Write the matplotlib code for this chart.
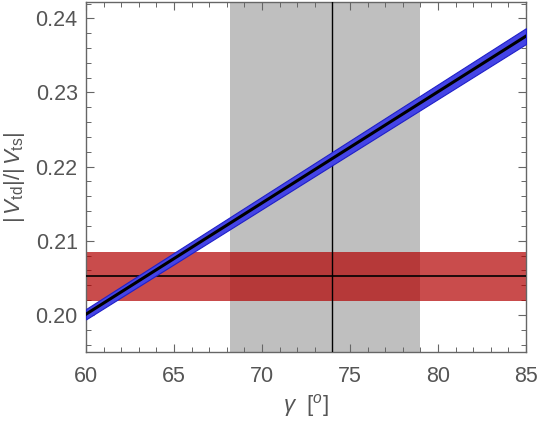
import numpy as np
import matplotlib
matplotlib.use("Agg")
import matplotlib.pyplot as plt
from matplotlib.ticker import MultipleLocator

plt.rcParams['font.family'] = ['Liberation Sans', 'DejaVu Sans']
plt.rcParams['mathtext.fontset'] = 'custom'
plt.rcParams['mathtext.rm'] = 'Liberation Sans'
plt.rcParams['mathtext.it'] = 'Liberation Sans:italic'

# gamma (deg) vs |Vtd|/|Vts| prediction, with its band
gamma = [60, 65, 70, 75, 80, 85]
ratio = [0.2001, 0.2076, 0.2151, 0.2226, 0.2301, 0.2376]
ratio_err = [0.0007, 0.00077, 0.00084, 0.00091, 0.00099, 0.00107]

# measured gamma range and central value
gamma_lo, gamma_mid, gamma_hi = 68.2, 74.0, 79.0
# measured ratio central value and error
ratio_mid, ratio_unc = 0.2052, 0.0033

gamma = np.array(gamma)
ratio = np.array(ratio)
ratio_err = np.array(ratio_err)

fig = plt.figure(figsize=(5.4, 4.21), dpi=100)
ax = fig.add_axes([0.1593, 0.1639, 0.8147, 0.8313])

ax.axvspan(gamma_lo, gamma_hi, color="#bfbfbf", lw=0, zorder=1)
ax.axhspan(ratio_mid - ratio_unc, ratio_mid + ratio_unc, color=(0.70, 0.0, 0.0), alpha=0.7, lw=0, zorder=2)
ax.axvline(gamma_mid, color="black", lw=1.0, zorder=3)
ax.axhline(ratio_mid, color="black", lw=1.2, zorder=3)

ax.fill_between(gamma, ratio - ratio_err, ratio + ratio_err, facecolor="#4444e6",
                edgecolor="#2020c8", lw=0.8, zorder=4)
ax.plot(gamma, ratio, color="black", lw=2.2, zorder=5)

ax.set_xlim(60, 85)
ax.set_ylim(0.195, 0.2422)
ax.xaxis.set_major_locator(MultipleLocator(5))
ax.xaxis.set_minor_locator(MultipleLocator(1))
ax.yaxis.set_major_locator(MultipleLocator(0.01))
ax.yaxis.set_minor_locator(MultipleLocator(0.002))
ax.yaxis.set_major_formatter(plt.FormatStrFormatter("%.2f"))

ax.tick_params(which="both", direction="in", top=True, right=True, color="#666666",
               labelcolor="#555555", labelsize=15.5)
ax.tick_params(which="major", length=6, width=0.8)
ax.tick_params(axis="x", which="major", pad=10)
ax.tick_params(axis="y", which="major", pad=6)
ax.tick_params(which="minor", length=3.5, width=0.7)
for s in ax.spines.values():
    s.set_color("#666666")
    s.set_linewidth(1.0)

ax.set_xlabel(r"$\gamma\ \ [^o]$", fontsize=16, color="#555555", labelpad=4)
ax.set_ylabel(r"$|\,V_{\rm td}|/|\,V_{\rm ts}|$", fontsize=16, color="#555555", labelpad=6)

fig.savefig("out.png", dpi=100)
